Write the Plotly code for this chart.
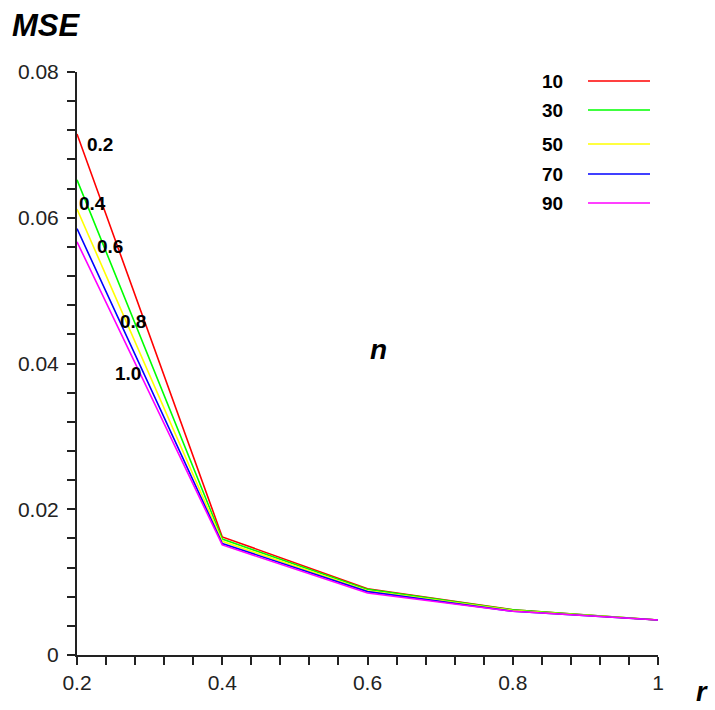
import plotly.graph_objects as go

r_vals = [0.2, 0.4, 0.6, 0.8, 1.0]
n_labels = ["10", "30", "50", "70", "90"]
mse_n10 = [0.0715, 0.0162, 0.0091, 0.0062, 0.0048]
mse_n30 = [0.0652, 0.0159, 0.0090, 0.0062, 0.0048]
mse_n50 = [0.0612, 0.0156, 0.0088, 0.0061, 0.0048]
mse_n70 = [0.0585, 0.0153, 0.0087, 0.0060, 0.0048]
mse_n90 = [0.0567, 0.0151, 0.0085, 0.0060, 0.0048]
series = [mse_n10, mse_n30, mse_n50, mse_n70, mse_n90]
colors = ["#ff0000", "#00ff00", "#ffff00", "#0000ff", "#ff00ff"]

x_ticks = [0.2, 0.4, 0.6, 0.8, 1.0]
x_ticktext = ["0.2", "0.4", "0.6", "0.8", "1"]
y_ticks = [0, 0.02, 0.04, 0.06, 0.08]
y_ticktext = ["0", "0.02", "0.04", "0.06", "0.08"]

# in-plot labels (text, x, y in data coords)
curve_labels = ["0.2", "0.4", "0.6", "0.8", "1.0"]
curve_label_x = [0.2317, 0.2207, 0.2454, 0.2771, 0.2702]
curve_label_y = [0.0701, 0.0619, 0.0561, 0.0458, 0.0386]

W, H = 715, 710
L, R, T, B = 77, 57, 72, 55
pw, ph = W - L - R, H - T - B

def px(x):
    return (x - L) / pw

def py(y):
    return (H - B - y) / ph

fig = go.Figure()
for name, ys, c in zip(n_labels, series, colors):
    fig.add_trace(go.Scatter(x=r_vals, y=ys, mode="lines", name=name,
                             line=dict(color=c, width=1.6), showlegend=False))

lab_font = dict(size=19, color="black", family="Liberation Sans")
annotations = []
for t, x, y in zip(curve_labels, curve_label_x, curve_label_y):
    annotations.append(dict(text="<b>" + t + "</b>", x=x, y=y, xref="x", yref="y",
                            showarrow=False, font=lab_font))

# legend (manual)
leg_y = [81, 110, 144, 174, 203]
shapes = []
for name, c, yy in zip(n_labels, colors, leg_y):
    annotations.append(dict(text="<b>" + name + "</b>", x=px(552), y=py(yy),
                            xref="paper", yref="paper", showarrow=False,
                            xanchor="center", yanchor="middle", font=lab_font))
    shapes.append(dict(type="line", xref="paper", yref="paper",
                       x0=px(588), x1=px(650), y0=py(yy), y1=py(yy),
                       line=dict(color=c, width=1.5)))

annotations.append(dict(text="<b><i>MSE</i></b>", x=px(46), y=py(26), xref="paper",
                        yref="paper", showarrow=False, xanchor="center", yanchor="middle",
                        font=dict(size=31, color="black", family="Liberation Sans")))
annotations.append(dict(text="<b><i>n</i></b>", x=px(378), y=py(349), xref="paper",
                        yref="paper", showarrow=False, xanchor="center", yanchor="middle",
                        font=dict(size=28, color="black", family="Liberation Sans")))
annotations.append(dict(text="<b><i>r</i></b>", x=px(702), y=py(692), xref="paper",
                        yref="paper", showarrow=False, xanchor="center", yanchor="middle",
                        font=dict(size=27, color="black", family="Liberation Sans")))

tick_font = dict(size=21, color="#222", family="Liberation Sans, sans-serif")
axis_common = dict(showgrid=False, zeroline=False, showline=True, linecolor="#222",
                   linewidth=2, ticks="outside", ticklen=8, tickwidth=2, tickcolor="#222",
                   tickfont=tick_font)

fig.update_layout(
    width=W, height=H,
    margin=dict(l=L, r=R, t=T, b=B),
    paper_bgcolor="white", plot_bgcolor="white",
    xaxis=dict(range=[0.2, 1.0], tickvals=x_ticks, ticktext=x_ticktext,
               minor=dict(dtick=0.04, tick0=0.2, ticks="outside", ticklen=8,
                          tickwidth=2, tickcolor="#222", showgrid=False),
               **axis_common),
    yaxis=dict(range=[0, 0.08], tickvals=y_ticks, ticktext=y_ticktext,
               ticklabelstandoff=4,
               minor=dict(dtick=0.004, tick0=0, ticks="outside", ticklen=8,
                          tickwidth=2, tickcolor="#222", showgrid=False),
               **axis_common),
    annotations=annotations,
    shapes=shapes,
    showlegend=False,
)

fig.write_html("out.html")
